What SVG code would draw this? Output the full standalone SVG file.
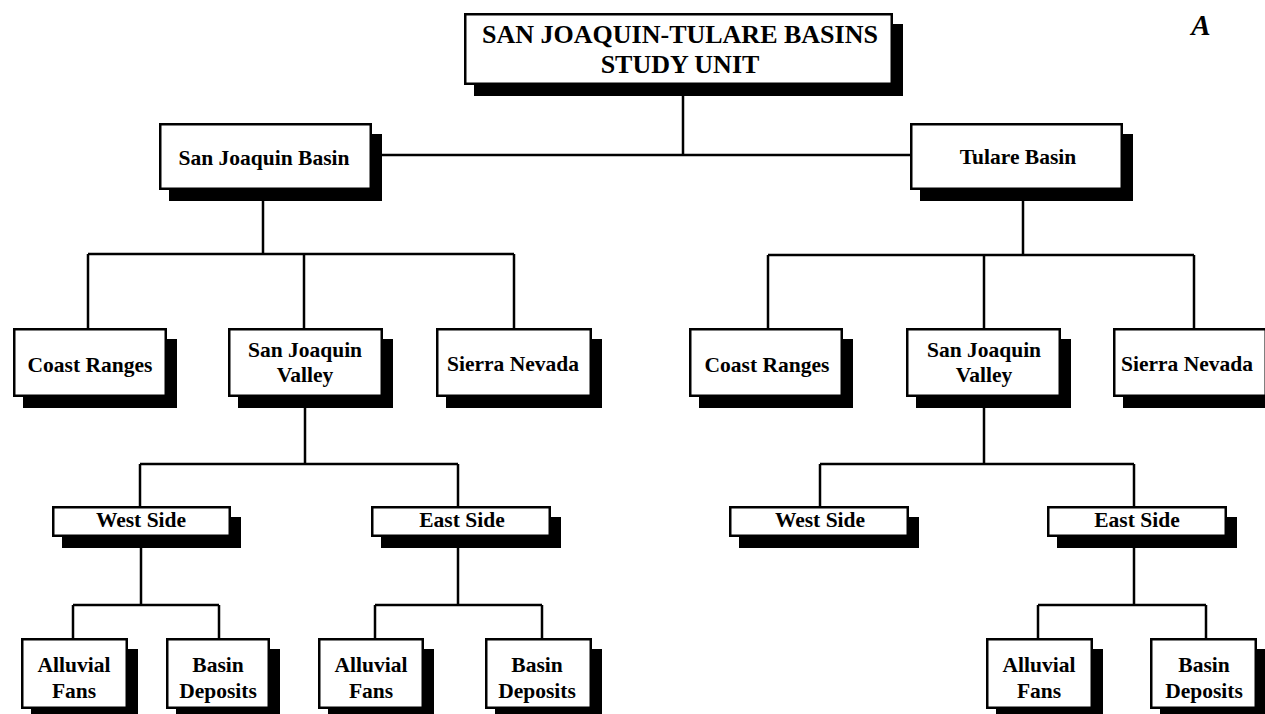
<svg xmlns="http://www.w3.org/2000/svg" width="1265" height="714" viewBox="0 0 1265 714">
<style>
.sh{fill:#000}
.bx{fill:#fff;stroke:#000;stroke-width:2.5}
.t{font-family:"Liberation Serif","Times New Roman",serif;font-weight:bold;font-size:21.5px;text-anchor:middle;fill:#000}
.tt{font-size:26px}
.c{fill:none;stroke:#000;stroke-width:2.5}
</style>
<rect width="1265" height="714" fill="#fff"/>
<g id="connectors">
<path class="c" d="M683,85V155M372,155H910"/>
<path class="c" d="M263,190V254M88,254H514M88,254V328M304,254V328M514,254V328"/>
<path class="c" d="M1023,190V255M768,255H1194M768,255V328M984,255V328M1194,255V328"/>
<path class="c" d="M305,397V464M140,464H458M140,464V506M458,464V506"/>
<path class="c" d="M141,537V605M73,605H219M73,605V638M219,605V638"/>
<path class="c" d="M458,537V605M375,605H542M375,605V638M542,605V638"/>
<path class="c" d="M984,397V464M820,464H1134M820,464V506M1134,464V506"/>
<path class="c" d="M1134,537V605M1038,605H1206M1038,605V638M1206,605V638"/>
</g>
<g id="n-top"><rect class="sh" x="474" y="24" width="429" height="72"/><rect class="bx" x="465.25" y="14.25" width="426.5" height="69.5"/><text class="t tt" x="680" y="43">SAN JOAQUIN-TULARE BASINS</text><text class="t tt" x="680" y="73">STUDY UNIT</text></g>
<g id="n-sjb"><rect class="sh" x="169" y="134" width="213" height="67"/><rect class="bx" x="160.25" y="124.25" width="210.5" height="64.5"/><text class="t" x="264" y="165">San Joaquin Basin</text></g>
<g id="n-tb"><rect class="sh" x="920" y="134" width="213" height="67"/><rect class="bx" x="911.25" y="124.25" width="210.5" height="64.5"/><text class="t" x="1018" y="164">Tulare Basin</text></g>
<g id="n-lcr"><rect class="sh" x="23" y="339" width="154" height="69"/><rect class="bx" x="14.25" y="329.25" width="151.5" height="66.5"/><text class="t" x="90" y="372">Coast Ranges</text></g>
<g id="n-lsjv"><rect class="sh" x="238" y="339" width="155" height="69"/><rect class="bx" x="229.25" y="329.25" width="152.5" height="66.5"/><text class="t" x="305" y="357">San Joaquin</text><text class="t" x="305" y="382">Valley</text></g>
<g id="n-lsn"><rect class="sh" x="446" y="339" width="156" height="69"/><rect class="bx" x="437.25" y="329.25" width="153.5" height="66.5"/><text class="t" x="513" y="371">Sierra Nevada</text></g>
<g id="n-rcr"><rect class="sh" x="699" y="339" width="154" height="69"/><rect class="bx" x="690.25" y="329.25" width="151.5" height="66.5"/><text class="t" x="767" y="372">Coast Ranges</text></g>
<g id="n-rsjv"><rect class="sh" x="916" y="339" width="155" height="69"/><rect class="bx" x="907.25" y="329.25" width="152.5" height="66.5"/><text class="t" x="984" y="357">San Joaquin</text><text class="t" x="984" y="382">Valley</text></g>
<g id="n-rsn"><rect class="sh" x="1123" y="339" width="154" height="69"/><rect class="bx" x="1114.25" y="329.25" width="151.5" height="66.5"/><text class="t" x="1187" y="371">Sierra Nevada</text></g>
<g id="n-lws"><rect class="sh" x="62" y="517" width="179" height="31"/><rect class="bx" x="53.25" y="507.25" width="176.5" height="28.5"/><text class="t" x="141" y="527">West Side</text></g>
<g id="n-les"><rect class="sh" x="381" y="517" width="180" height="31"/><rect class="bx" x="372.25" y="507.25" width="177.5" height="28.5"/><text class="t" x="462" y="527">East Side</text></g>
<g id="n-rws"><rect class="sh" x="739" y="517" width="180" height="31"/><rect class="bx" x="730.25" y="507.25" width="177.5" height="28.5"/><text class="t" x="820" y="527">West Side</text></g>
<g id="n-res"><rect class="sh" x="1057" y="517" width="180" height="31"/><rect class="bx" x="1048.25" y="507.25" width="177.5" height="28.5"/><text class="t" x="1137" y="527">East Side</text></g>
<g id="n-af1"><rect class="sh" x="31" y="649" width="107" height="71"/><rect class="bx" x="22.25" y="639.25" width="104.5" height="68.5"/><text class="t" x="74" y="672">Alluvial</text><text class="t" x="74" y="698">Fans</text></g>
<g id="n-bd1"><rect class="sh" x="176" y="649" width="104" height="71"/><rect class="bx" x="167.25" y="639.25" width="101.5" height="68.5"/><text class="t" x="218" y="672">Basin</text><text class="t" x="218" y="698">Deposits</text></g>
<g id="n-af2"><rect class="sh" x="328" y="649" width="106" height="71"/><rect class="bx" x="319.25" y="639.25" width="103.5" height="68.5"/><text class="t" x="371" y="672">Alluvial</text><text class="t" x="371" y="698">Fans</text></g>
<g id="n-bd2"><rect class="sh" x="495" y="649" width="107" height="71"/><rect class="bx" x="486.25" y="639.25" width="104.5" height="68.5"/><text class="t" x="537" y="672">Basin</text><text class="t" x="537" y="698">Deposits</text></g>
<g id="n-af3"><rect class="sh" x="996" y="649" width="107" height="71"/><rect class="bx" x="987.25" y="639.25" width="104.5" height="68.5"/><text class="t" x="1039" y="672">Alluvial</text><text class="t" x="1039" y="698">Fans</text></g>
<g id="n-bd3"><rect class="sh" x="1160" y="649" width="107" height="71"/><rect class="bx" x="1151.25" y="639.25" width="104.5" height="68.5"/><text class="t" x="1204" y="672">Basin</text><text class="t" x="1204" y="698">Deposits</text></g>
<text class="t" x="1201" y="35" font-style="italic" font-size="29px" style="font-size:29px">A</text>
</svg>
